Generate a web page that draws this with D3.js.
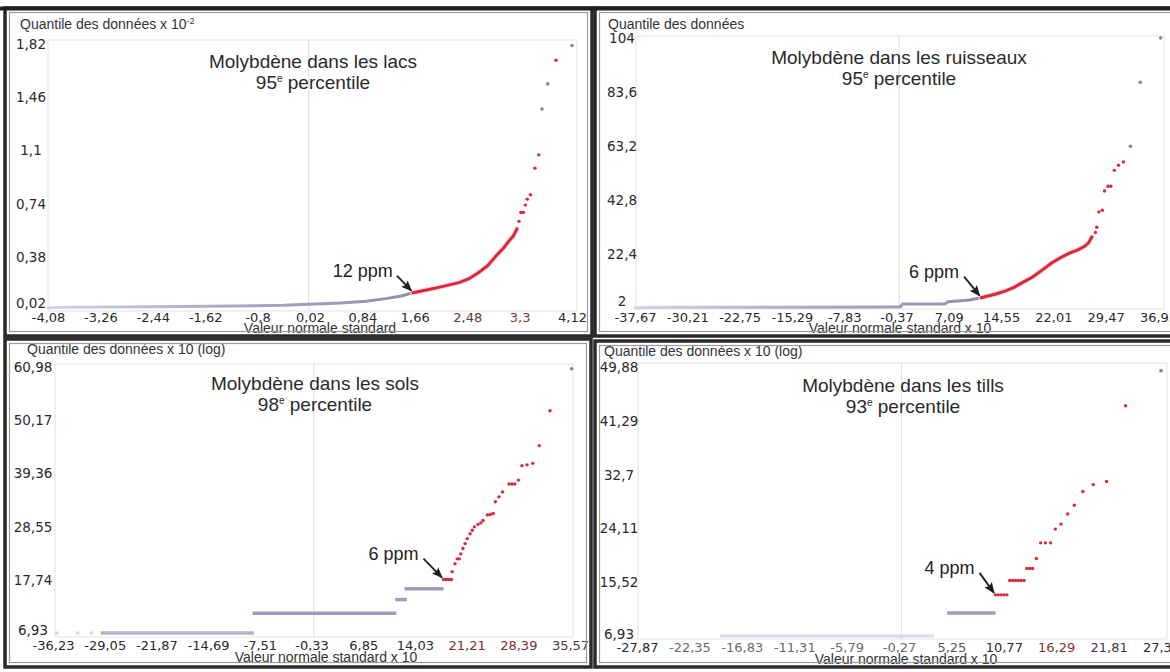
<!DOCTYPE html>
<html>
<head>
<meta charset="utf-8">
<script src="https://cdn.jsdelivr.net/npm/d3@7"></script>
<style>
  body { margin: 0; background: #fff; }
  svg { display: block; }
</style>
</head>
<body>
<div id="chart"></div>
<script>
// ---- values ----

// lacs : quantile x 10^-2 vs valeur normale standard
const lacsXTicks = ["-4,08", "-3,26", "-2,44", "-1,62", "-0,8", "0,02", "0,84", "1,66", "2,48", "3,3", "4,12"];
const lacsYTicks = ["1,82", "1,46", "1,1", "0,74", "0,38", "0,02"];
const lacsLowX = [-4.08, -3.8, -3.0, -2.0, -1.2, -0.4, 0.1, 0.5, 0.9, 1.2, 1.45, 1.63];
const lacsLowY = [0.035, 0.038, 0.041, 0.044, 0.047, 0.052, 0.06, 0.068, 0.08, 0.097, 0.115, 0.137];
const lacsHighX = [1.63, 1.9, 2.05, 2.2, 2.35, 2.5, 2.65, 2.8, 2.96, 3.05, 3.14, 3.2, 3.26];
const lacsHighY = [0.137, 0.16, 0.175, 0.19, 0.205, 0.23, 0.27, 0.32, 0.40, 0.44, 0.49, 0.52, 0.57];
const lacsDotX = [3.29, 3.32, 3.36, 3.39, 3.42, 3.47, 3.54, 3.60, 3.87];
const lacsDotY = [0.62, 0.68, 0.68, 0.73, 0.77, 0.80, 0.98, 1.07, 1.71];
const lacsFaintX = [3.65, 3.74, 4.12];
const lacsFaintY = [1.38, 1.55, 1.81];

// ruisseaux : quantile vs valeur normale standard x 10
const ruisXTicks = ["-37,67", "-30,21", "-22,75", "-15,29", "-7,83", "-0,37", "7,09", "14,55", "22,01", "29,47", "36,93"];
const ruisYTicks = ["104", "83,6", "63,2", "42,8", "22,4", "2"];
const ruisLowX = [-37.67, -36.5, -30, -20, -12.4, -2, 0.2, 0.5, 6.5, 7.0, 10, 11.7];
const ruisLowY = [2.0, 2.2, 2.3, 2.3, 2.3, 2.4, 2.5, 3.5, 3.5, 4.4, 5.0, 5.9];
const ruisHighX = [11.7, 13.8, 15.0, 16.4, 17.5, 19.1, 20.5, 21.7, 23.0, 24.3, 25.5, 26.4, 27.0, 27.5];
const ruisHighY = [5.9, 7.3, 8.3, 9.8, 11.5, 13.8, 16.5, 18.9, 21.0, 22.7, 24.0, 25.2, 26.5, 28.9];
const ruisDotX = [28.0, 28.2, 28.5, 29.0, 29.3, 29.8, 30.2, 30.7, 31.3, 32.0];
const ruisDotY = [30.5, 32.5, 38.3, 38.9, 46.2, 48.0, 48.0, 54.0, 55.9, 57.2];
const ruisFaintX = [33.0, 34.4, 37.3];
const ruisFaintY = [63.1, 87.3, 104];

// sols : quantile x 10 (log) vs valeur normale standard x 10
const solsXTicks = ["-36,23", "-29,05", "-21,87", "-14,69", "-7,51", "-0,33", "6,85", "14,03", "21,21", "28,39", "35,57"];
const solsYTicks = ["60,98", "50,17", "39,36", "28,55", "17,74", "6,93"];
const solsSegStart = [-29.6, -8.5, 11.3, 12.6];
const solsSegEnd = [-8.3, 11.45, 12.9, 18.0];
const solsSegLevel = [6.93, 10.95, 13.72, 15.9];
const solsFaintX = [-35.7, -32.8, -30.9, 35.8];
const solsFaintY = [6.93, 6.93, 6.93, 60.6];
const solsDotX = [18.0, 18.3, 18.6, 18.9, 19.1, 19.2, 19.6, 19.9, 20.2, 20.4, 20.7, 21.0, 21.3, 21.7, 22.0,
  22.3, 22.8, 23.2, 23.5, 24.1, 24.5, 24.9, 25.2, 25.7, 26.2, 27.1, 27.5, 27.9, 28.4, 28.9, 29.6, 30.4, 31.3, 32.8];
const solsDotY = [17.8, 17.8, 17.8, 17.8, 17.8, 19.4, 21.0, 22.0, 22.0, 23.0, 24.1, 25.1, 26.1, 27.1, 27.8,
  28.5, 29.0, 29.3, 29.8, 30.9, 31.0, 31.2, 33.6, 34.6, 35.6, 37.2, 37.2, 37.2, 38.0, 40.9, 41.1, 41.4, 45.0, 52.1];

// tills : quantile x 10 (log) vs valeur normale standard x 10
const tillsXTicks = ["-27,87", "-22,35", "-16,83", "-11,31", "-5,79", "-0,27", "5,25", "10,77", "16,29", "21,81", "27,33"];
const tillsYTicks = ["49,88", "41,29", "32,7", "24,11", "15,52", "6,93"];
const tillsSegStart = [-19.1, 4.8];
const tillsSegEnd = [3.4, 9.9];
const tillsSegLevel = [6.93, 10.6];
const tillsFaintX = [27.33];
const tillsFaintY = [49.3];
const tillsDotX = [9.9, 10.2, 10.5, 10.8, 11.1, 11.4, 11.7, 12.0, 12.3, 12.6, 12.9, 13.2, 13.5, 13.8, 14.2,
  14.65, 15.15, 15.7, 16.2, 16.8, 17.5, 18.2, 19.1, 20.2, 21.6, 23.6];
const tillsDotY = [13.5, 13.5, 13.5, 13.5, 13.5, 15.8, 15.8, 15.8, 15.8, 15.8, 15.8, 17.7, 17.7, 17.7, 19.3,
  21.8, 21.8, 21.8, 24.0, 24.8, 26.4, 27.8, 30.0, 31.1, 31.6, 43.7];

const num = s => +s.replace(",", ".");

const W = 1170, H = 672;
const svg = d3.select("#chart").append("svg")
  .attr("width", W)
  .attr("height", H)
  .style("font-family", "'Liberation Sans', Arial, sans-serif");

svg.append("rect").attr("width", W).attr("height", H).attr("fill", "#fff");

const defs = svg.append("defs");
defs.append("marker")
  .attr("id", "arrow")
  .attr("viewBox", "0 0 11 9")
  .attr("refX", 10).attr("refY", 4.5)
  .attr("markerWidth", 11).attr("markerHeight", 9)
  .attr("markerUnits", "userSpaceOnUse")
  .attr("orient", "auto")
  .append("path")
  .attr("d", "M0,0L11,4.5L0,9L2,4.5Z")
  .attr("fill", "#1e1e1e");

const panels = [
  {
    id: "lacs", xTicks: lacsXTicks, yTicks: lacsYTicks,
    low: [lacsLowX, lacsLowY], high: [lacsHighX, lacsHighY],
    dots: [lacsDotX, lacsDotY], faint: [lacsFaintX, lacsFaintY],
    xRange: [48, 572], yRange: [310, 44], frame: [48, 40, 577, 311],
    box: [5, 8, 592, 336],
    yLabelX: 31, xLabelY: 321.5, lastRaise: 7,
    yTitle: "Quantile des données x 10", ySup: "-2", yTitlePos: [20, 29],
    xTitle: "Valeur normale standard", xTitlePos: [320, 333],
    title: "Molybdène dans les lacs", pct: "95", titlePos: [313, 68],
    note: "12 ppm", noteAt: [1.63, 0.137], noteText: [-20, -16], noteFrom: [-16, -17],
    tickColors: { 8: "#5b3b3b", 9: "#8a2f2f" }
  },
  {
    id: "ruis", xTicks: ruisXTicks, yTicks: ruisYTicks,
    low: [ruisLowX, ruisLowY], high: [ruisHighX, ruisHighY],
    dots: [ruisDotX, ruisDotY], faint: [ruisFaintX, ruisFaintY],
    xRange: [635, 1158], yRange: [308, 38], frame: [636, 36, 1164, 309],
    box: [595, 8, 1176, 336],
    yLabelX: 622, xLabelY: 321.5, lastRaise: 7,
    yTitle: "Quantile des données", ySup: null, yTitlePos: [608, 29],
    xTitle: "Valeur normale standard x 10", xTitlePos: [900, 333],
    title: "Molybdène dans les ruisseaux", pct: "95", titlePos: [899, 64],
    note: "6 ppm", noteAt: [11.7, 5.9], noteText: [-22, -20], noteFrom: [-17, -21],
    tickColors: {}
  },
  {
    id: "sols", xTicks: solsXTicks, yTicks: solsYTicks,
    segs: [solsSegStart, solsSegEnd, solsSegLevel], faintSeg: [],
    dots: [solsDotX, solsDotY], faint: [solsFaintX, solsFaintY],
    xRange: [53, 570], yRange: [633, 367], frame: [55, 364, 573, 637],
    box: [5, 339, 591, 667],
    yLabelX: 33, xLabelY: 649.5, lastRaise: 3,
    yTitle: "Quantile des données x 10 (log)", ySup: null, yTitlePos: [27, 354],
    xTitle: "Valeur normale standard x 10", xTitlePos: [326, 662],
    title: "Molybdène dans les sols", pct: "98", titlePos: [315, 390],
    note: "6 ppm", noteAt: [18.0, 17.8], noteText: [-25, -20], noteFrom: [-20, -21],
    tickColors: { 8: "#7d2f2f", 9: "#7d2f2f", 10: "#4a3a3a" }
  },
  {
    id: "tills", xTicks: tillsXTicks, yTicks: tillsYTicks,
    segs: [tillsSegStart, tillsSegEnd, tillsSegLevel], faintSeg: [0],
    dots: [tillsDotX, tillsDotY], faint: [tillsFaintX, tillsFaintY],
    xRange: [637, 1161], yRange: [636, 367], frame: [638, 363, 1167, 639],
    box: [595, 341, 1176, 667],
    yLabelX: 619, xLabelY: 652, lastRaise: 2,
    yTitle: "Quantile des données x 10 (log)", ySup: null, yTitlePos: [604, 356],
    xTitle: "Valeur normale standard x 10", xTitlePos: [906, 664],
    title: "Molybdène dans les tills", pct: "93", titlePos: [903, 392],
    note: "4 ppm", noteAt: [9.9, 13.5], noteText: [-21, -21], noteFrom: [-16, -22],
    tickColors: { 1: "#6a6a6a", 2: "#6a6a6a", 3: "#6a6a6a", 4: "#6a6a6a", 5: "#6a6a6a", 6: "#555", 8: "#8a3030", 9: "#4a3838" }
  }
];

panels.forEach(p => {
  const g = svg.append("g").attr("class", "panel-" + p.id);
  const xv = p.xTicks.map(num), yv = p.yTicks.map(num);
  const yMin = d3.min(yv);
  const x = d3.scaleLinear().domain([xv[0], xv[xv.length - 1]]).range(p.xRange);
  const y = d3.scaleLinear().domain([yMin, d3.max(yv)]).range(p.yRange);
  const f = p.frame;

  // plot frame + zero gridline
  g.append("rect")
    .attr("x", f[0]).attr("y", f[1])
    .attr("width", f[2] - f[0]).attr("height", f[3] - f[1])
    .attr("fill", "none").attr("stroke", "#e3e3e3");
  g.append("line")
    .attr("x1", x(0)).attr("x2", x(0))
    .attr("y1", f[1]).attr("y2", f[3])
    .attr("stroke", "#dedede");

  const line = d3.line().x(d => x(d[0])).y(d => y(d[1]));

  // values under the threshold, drawn as a dense gray band
  if (p.low) {
    const pts = d3.zip(p.low[0], p.low[1]);
    const gid = "grad-" + p.id;
    const grad = defs.append("linearGradient").attr("id", gid)
      .attr("gradientUnits", "userSpaceOnUse")
      .attr("x1", x(pts[0][0])).attr("x2", x(pts[pts.length - 1][0]))
      .attr("y1", 0).attr("y2", 0);
    grad.append("stop").attr("offset", 0).attr("stop-color", "#d3d3e3");
    grad.append("stop").attr("offset", 0.5).attr("stop-color", "#a9a9c6");
    grad.append("stop").attr("offset", 1).attr("stop-color", "#8f8fae");
    g.append("path").datum(pts)
      .attr("d", line)
      .attr("fill", "none")
      .attr("stroke", `url(#${gid})`)
      .attr("stroke-width", 3)
      .attr("stroke-linecap", "round");
  }
  if (p.segs) {
    const segs = d3.zip(p.segs[0], p.segs[1], p.segs[2]);
    g.selectAll(".seg").data(segs).enter().append("line")
      .attr("x1", d => x(d[0])).attr("x2", d => x(d[1]))
      .attr("y1", d => y(d[2])).attr("y2", d => y(d[2]))
      .attr("stroke", (d, i) => p.faintSeg.includes(i) ? "#dcdce8" : (i === 0 ? "#b3b3cc" : "#9d9dbb"))
      .attr("stroke-width", 3.5);
  }

  // dense part above the threshold
  if (p.high) {
    const pts = d3.zip(p.high[0], p.high[1]);
    g.append("path").datum(pts)
      .attr("d", line).attr("fill", "none")
      .attr("stroke", "#fadadd").attr("stroke-width", 5).attr("stroke-linecap", "round");
    g.append("path").datum(pts)
      .attr("d", line).attr("fill", "none")
      .attr("stroke", "#d8283a").attr("stroke-width", 3).attr("stroke-linecap", "round");
  }

  // isolated red points
  g.selectAll(".dot").data(d3.zip(p.dots[0], p.dots[1])).enter().append("circle")
    .attr("cx", d => x(d[0])).attr("cy", d => y(d[1]))
    .attr("r", 1.7).attr("fill", "#d42a3a");

  // faded points: minimum values in pale lavender, extremes in grey-mauve
  g.selectAll(".faint").data(d3.zip(p.faint[0], p.faint[1])).enter().append("circle")
    .attr("cx", d => x(d[0])).attr("cy", d => y(d[1]))
    .attr("r", 1.8).attr("fill", d => d[1] === yMin ? "#d4d4e2" : "#9a7f93");

  // axes
  const xAxis = g.append("g")
    .attr("transform", `translate(0,${p.xLabelY})`)
    .call(d3.axisBottom(x).tickValues(xv).tickFormat((d, i) => p.xTicks[i]).tickSize(0));
  xAxis.select(".domain").remove();
  xAxis.selectAll("text")
    .attr("y", 0).attr("dy", 0)
    .attr("font-family", "'DejaVu Sans', Verdana, sans-serif")
    .attr("font-size", 13)
    .attr("fill", (d, i) => p.tickColors[i] || "#2a2a2a");

  const yAxis = g.append("g")
    .attr("transform", `translate(${p.yLabelX},0)`)
    .call(d3.axisLeft(y).tickValues(yv).tickFormat((d, i) => p.yTicks[i]).tickSize(0).tickPadding(0));
  yAxis.select(".domain").remove();
  yAxis.selectAll("text")
    .attr("x", 0)
    .attr("dy", (d, i) => i === yv.length - 1 ? (4.5 - p.lastRaise) : 4.5)
    .attr("text-anchor", "middle")
    .attr("font-family", "'DejaVu Sans', Verdana, sans-serif")
    .attr("font-size", 13.5)
    .attr("fill", "#2a2a2a");

  // axis titles
  const yt = g.append("text")
    .attr("x", p.yTitlePos[0]).attr("y", p.yTitlePos[1])
    .attr("font-size", 14).attr("fill", "#333")
    .text(p.yTitle);
  if (p.ySup) {
    yt.append("tspan").attr("dy", -5).attr("font-size", 9).text(p.ySup);
  }
  g.append("text")
    .attr("x", p.xTitlePos[0]).attr("y", p.xTitlePos[1])
    .attr("text-anchor", "middle")
    .attr("font-size", 14).attr("fill", "#333")
    .text(p.xTitle);

  // chart title
  g.append("text")
    .attr("x", p.titlePos[0]).attr("y", p.titlePos[1])
    .attr("text-anchor", "middle")
    .attr("font-size", 19).attr("fill", "#2a2a2a")
    .text(p.title);
  const pt = g.append("text")
    .attr("x", p.titlePos[0]).attr("y", p.titlePos[1] + 20.5)
    .attr("text-anchor", "middle")
    .attr("font-size", 19).attr("fill", "#2a2a2a");
  pt.append("tspan").text(p.pct);
  pt.append("tspan").attr("dy", -7).attr("font-size", 10).text("e");
  pt.append("tspan").attr("dy", 7).text(" percentile");

  // threshold annotation
  const tx = x(p.noteAt[0]), ty = y(p.noteAt[1]);
  g.append("line")
    .attr("x1", tx + p.noteFrom[0]).attr("y1", ty + p.noteFrom[1])
    .attr("x2", tx - 1.5).attr("y2", ty - 2)
    .attr("stroke", "#1e1e1e").attr("stroke-width", 1.8)
    .attr("marker-end", "url(#arrow)");
  g.append("text")
    .attr("x", tx + p.noteText[0]).attr("y", ty + p.noteText[1])
    .attr("text-anchor", "end")
    .attr("font-size", 18).attr("fill", "#222")
    .text(p.note);

  // group box frame
  const b = p.box;
  svg.append("rect")
    .attr("x", b[0]).attr("y", b[1])
    .attr("width", b[2] - b[0]).attr("height", b[3] - b[1])
    .attr("fill", "none").attr("stroke", "#2a2a2a").attr("stroke-width", 3.5);
  svg.append("rect")
    .attr("x", b[0] + 4.5).attr("y", b[1] + 4.5)
    .attr("width", b[2] - b[0] - 9).attr("height", b[3] - b[1] - 9)
    .attr("fill", "none").attr("stroke", "#9a9a9a").attr("stroke-width", 1.2);
});

// heavy top rule across the sheet
svg.append("rect").attr("x", 0).attr("y", 6.5).attr("width", W).attr("height", 4).attr("fill", "#1e1e1e");
</script>
</body>
</html>
